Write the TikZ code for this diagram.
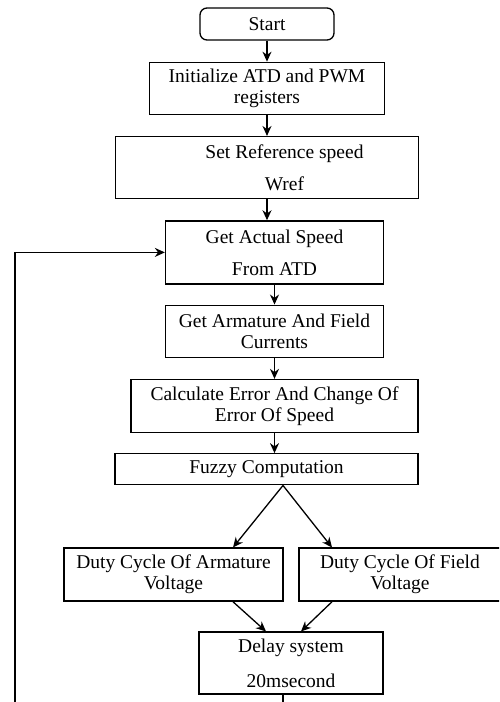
\documentclass[tikz,border=0pt]{standalone}
\usepackage{fontspec}
\setmainfont{Liberation Serif}
\usetikzlibrary{arrows.meta,positioning}

\begin{document}
\begin{tikzpicture}[->,>={Stealth[length=10pt,width=9pt]},x=1pt,y=1pt,node distance=21pt,
		line width=1.3pt,
		box/.style={draw,rectangle,align=center,inner sep=0pt,
			font=\fontsize{19.5}{21}\selectfont},
		term/.style={box,rounded corners=7pt}]

		\useasboundingbox (0,0) rectangle (499,-702);
		\clip (0,0) rectangle (499,-702);

		\node[term, minimum width=134pt, minimum height=32pt] (Start) at (267,-24) {Start};
		\node[box, minimum width=235pt, minimum height=52pt] (Init) [below=of Start]
			{Initialize ATD and PWM\\registers};
		\node[box, minimum width=303pt, minimum height=62pt] (Wref) [below=of Init]
			{\hspace*{35pt}Set Reference speed\\[11pt]\hspace*{35pt}Wref};
		\node[box, minimum width=218pt, minimum height=63pt] (Speed) [below=of Wref, xshift=7.5pt]
			{Get Actual Speed\\[11pt]From ATD};
		\node[box, minimum width=218pt, minimum height=52pt] (Curr) [below=20pt of Speed]
			{Get Armature And Field\\Currents};
		\node[box, minimum width=287pt, minimum height=53pt] (Err) [below=of Curr]
			{Calculate Error And Change Of\\Error Of Speed};
		\node[box, minimum width=303pt, minimum height=31pt] (Fuzzy) [below=20pt of Err, xshift=-8pt]
			{Fuzzy Computation};
		\node[box, minimum width=219pt, minimum height=53pt] (DutyA) [below=62pt of Fuzzy, xshift=-93pt]
			{Duty Cycle Of Armature\\Voltage};
		\node[box, minimum width=202pt, minimum height=53pt] (DutyF) [below=62pt of Fuzzy, xshift=133.5pt]
			{Duty Cycle Of Field\\Voltage};
		\node[box, minimum width=184pt, minimum height=62pt] (Delay) [below=146pt of Fuzzy, xshift=24.5pt]
			{Delay system\\[14pt]20msecond};

		\coordinate (Back) at (15,-712);

		\path (Start) edge (Init)
		(Init) edge (Wref)
		(Wref.south) edge (Wref.south |- Speed.north)
		(Speed) edge (Curr)
		(Curr.south) edge (Curr.south |- Err.north)
		(Err.south) edge (Err.south |- Fuzzy.north)
		([xshift=16.5pt]Fuzzy.south) edge ([xshift=59.5pt]DutyA.north)
		edge ([xshift=-68pt]DutyF.north)
		([xshift=59.5pt]DutyA.south) edge ([xshift=-25pt]Delay.north)
		([xshift=-68pt]DutyF.south) edge ([xshift=10pt]Delay.north);

		\draw ([xshift=-8pt]Delay.south) |- (Back) |- (Speed.west);
	\end{tikzpicture}
\end{document}
